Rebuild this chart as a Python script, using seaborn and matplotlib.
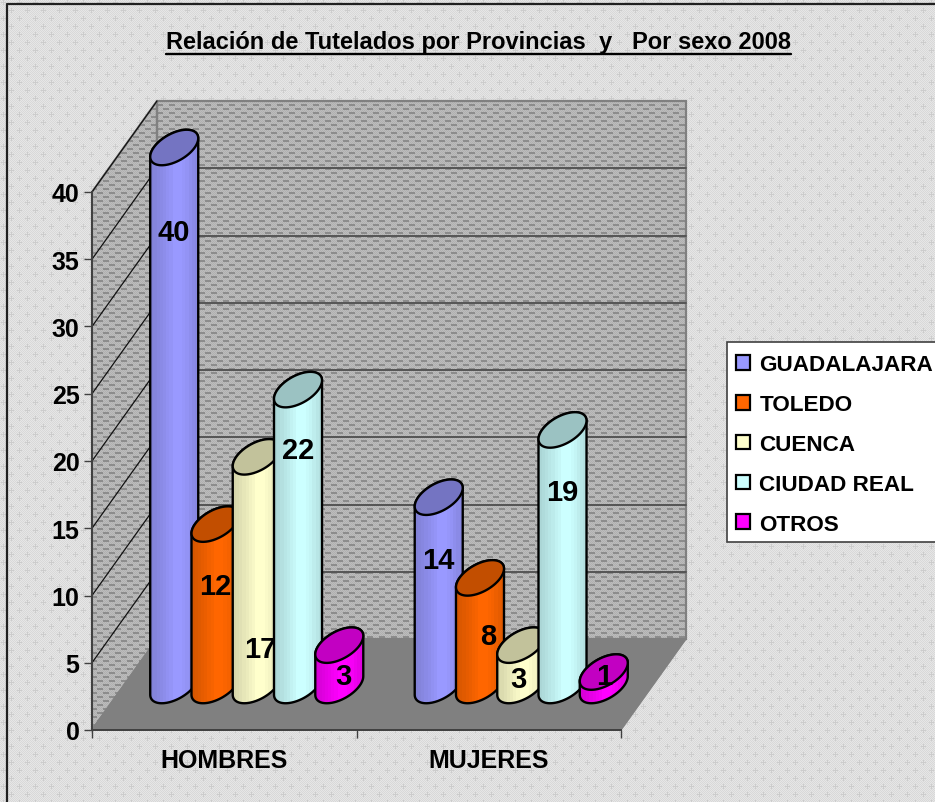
import numpy as np
import pandas as pd
import matplotlib
matplotlib.use("Agg")
import matplotlib.pyplot as plt
from matplotlib.collections import PolyCollection
from matplotlib.patches import Polygon, Rectangle
from matplotlib.path import Path
from matplotlib.transforms import Affine2D, IdentityTransform
import seaborn as sns

# ---------- data ----------
groups = ["HOMBRES", "MUJERES"]
provinces = ["GUADALAJARA", "TOLEDO", "CUENCA", "CIUDAD REAL", "OTROS"]
hombres = [40, 12, 17, 22, 3]
mujeres = [14, 8, 3, 19, 1]
colors = ["#9999FF", "#FF6600", "#FFFFCC", "#CCFFFF", "#FF00FF"]
title = "Relación de Tutelados por Provincias  y   Por sexo 2008"
y_ticks = [0, 5, 10, 15, 20, 25, 30, 35, 40]

df = pd.DataFrame({
    "grupo": groups[0:1] * 5 + groups[1:2] * 5,
    "provincia": provinces * 2,
    "valor": hombres + mujeres,
})

# ---------- layout (pixels, origin at top left of the picture) ----------
W, H = 935, 803
FONT = "Liberation Sans"
sns.set_style("white")
plt.rcParams["font.family"] = [FONT, "DejaVu Sans"]
plt.rcParams["text.color"] = "black"
plt.rcParams["xtick.labelcolor"] = "black"
plt.rcParams["ytick.labelcolor"] = "black"

AX_L, AX_R, AX_T, AX_B = 92, 621, 193, 731
DEPTH = np.array([65.0, 91.0])        # depth of the box, display px
DISC_W, DISC_DX, DISC_DY = 41.0, 25.0, 35.5


def tile_bg():
    yy, xx = np.indices((16, 16))
    t = np.where((xx + yy) % 2 == 0, 0xE6, 0xD8).astype(float)
    for cx, cy in ((3, 3), (11, 11)):
        t[cy, cx - 2:cx + 3] = 0xCC
        t[cy - 2:cy + 3, cx] = 0xCC
    return t


def tile_wall():
    yy, xx = np.indices((8, 12))
    t = np.where((xx + yy) % 2 == 0, 0xBC, 0xB0).astype(float)
    t[1:3, 1:7] = 0x8C
    t[5:7, 7:12] = 0x8C
    t[5:7, 0:1] = 0x8C
    return t


def tiled(t):
    ny = H // t.shape[0] + 1
    nx = W // t.shape[1] + 1
    return np.tile(t, (ny, nx))[:H, :W] / 255.0


fig = plt.figure(figsize=(W / 100, H / 100), dpi=100)
ax = fig.add_axes([AX_L / W, 1 - AX_B / H, (AX_R - AX_L) / W, (AX_B - AX_T) / H])
ax.patch.set_visible(False)

# bars come from seaborn; they are re-styled as cylinders below
sns.barplot(data=df, x="grupo", y="valor", hue="provincia", order=groups,
            hue_order=provinces, palette=dict(zip(provinces, colors)),
            width=0.78, gap=0, dodge=True, saturation=1, ax=ax, legend=True)
leg_handles, leg_labels = ax.get_legend_handles_labels()
ax.get_legend().remove()
ax.set_xlim(-0.5, 1.5)
ax.set_ylim(0, 40)
ax.set_xlabel("")
ax.set_ylabel("")

# axes
ax.set_yticks(y_ticks)
ax.set_yticklabels([str(v) for v in y_ticks], fontsize=18, fontweight="bold", color="black")
ax.tick_params(axis="y", length=6, width=1, color="#404040", pad=3, left=True)
ax.set_xticks([0, 1])
ax.set_xticklabels(groups, fontsize=18, fontweight="bold", color="black")
ax.tick_params(axis="x", which="major", length=0, pad=13)
ax.set_xticks([-0.5, 0.5, 1.5], minor=True)
ax.tick_params(axis="x", which="minor", length=6, width=1, color="#404040", bottom=True)
for s in ("top", "right"):
    ax.spines[s].set_visible(False)
for s in ("left", "bottom"):
    ax.spines[s].set_visible(True)
    ax.spines[s].set_color("#404040")
    ax.spines[s].set_linewidth(1.4)
    ax.spines[s].set_zorder(3)

fig.canvas.draw()
ident = IdentityTransform()


def disp(x, y):
    return ax.transData.transform((x, y))


# corners of the box in display px
p00 = disp(-0.5, 0)
p10 = disp(1.5, 0)
p01 = disp(-0.5, 40)
p11 = disp(1.5, 40)
back = np.array([p00 + DEPTH, p10 + DEPTH, p11 + DEPTH, p01 + DEPTH])
side = np.array([p00, p00 + DEPTH, p01 + DEPTH, p01])
floor = np.array([p00, p10, p10 + DEPTH, p00 + DEPTH])

# patterned figure background and walls
fig.patch.set_facecolor("#DEDEDE")
bg = fig.figimage(tiled(tile_bg()), cmap="gray", vmin=0, vmax=1, zorder=-3)
for poly in (back, side):
    im = fig.figimage(tiled(tile_wall()), cmap="gray", vmin=0, vmax=1, zorder=-2)
    im.set_clip_path(Path(np.vstack([poly, poly[:1]])), transform=ident)

WALL_Z = 0.5
for poly in (back, side):
    ax.add_patch(Polygon(poly, closed=True, transform=ident, fc="none", ec="#808080",
                         lw=1.6, zorder=WALL_Z, clip_on=False))
ax.add_patch(Polygon(floor, closed=True, transform=ident, fc="#808080", ec="#808080",
                     lw=1, zorder=WALL_Z + 0.01, clip_on=False))

# gridlines on the back wall and the side wall
for v in y_ticks[1:-1]:
    a = disp(-0.5, v)
    b = disp(1.5, v)
    ax.plot([a[0] + DEPTH[0], b[0] + DEPTH[0]], [a[1] + DEPTH[1], b[1] + DEPTH[1]],
            color="#555555", lw=1.4, transform=ident, zorder=WALL_Z + 0.1, clip_on=False)
for v in y_ticks[1:]:
    a = disp(-0.5, v)
    ax.plot([a[0], a[0] + DEPTH[0]], [a[1], a[1] + DEPTH[1]], color="#111111", lw=0.9,
            transform=ident, zorder=WALL_Z + 0.1, clip_on=False)

# ---------- cylinders ----------
bar_shift = np.array([32.5, 44.5])
GRAD = np.array([0.84, 0.86, 0.88, 0.90, 0.92, 0.95, 0.97, 1.0, 1.0, 1.0, 0.98, 0.96, 0.93, 0.90, 0.88])
CAP = 0.76
t0 = np.arctan2(DISC_DX, DISC_W)


def disc(cx, cy, t):
    return np.column_stack([cx + DISC_W / 2 * np.cos(t) + DISC_DX / 2 * np.sin(t),
                            cy + DISC_DY / 2 * np.sin(t)])


for si, container in enumerate(ax.containers):
    rgb = np.array(matplotlib.colors.to_rgb(colors[si]))
    for gi, patch in enumerate(container.patches):
        xc = patch.get_x() + patch.get_width() / 2
        val = patch.get_height()
        base = disp(xc, 0) + bar_shift
        top = disp(xc, val) + bar_shift
        z = 2 + gi + si * 0.1
        outline = np.vstack([
            disc(top[0], top[1], np.linspace(t0, t0 + np.pi, 50)),
            disc(base[0], base[1], np.linspace(t0 + np.pi, t0 + 2 * np.pi, 50)),
        ])
        sil = Polygon(outline, closed=True, transform=ident, fc=colors[si], ec="none",
                      zorder=z, clip_on=False)
        ax.add_patch(sil)
        # the seaborn bar itself sits inside the silhouette
        patch.set_transform(ax.transData + Affine2D().translate(*bar_shift))
        patch.set_zorder(z + 0.001)
        patch.set_clip_box(None)
        patch.set_clip_path(sil)
        patch.set_edgecolor("none")
        # vertical shading
        x0, x1 = outline[:, 0].min(), outline[:, 0].max()
        ys = outline[:, 1].min(), outline[:, 1].max()
        edges = np.linspace(x0, x1, len(GRAD) + 1)
        verts = [[(edges[i], ys[0]), (edges[i + 1], ys[0]), (edges[i + 1], ys[1]), (edges[i], ys[1])]
                 for i in range(len(GRAD))]
        pc = PolyCollection(verts, facecolors=[tuple(rgb * g) for g in GRAD], edgecolors="none",
                            antialiaseds=False, transform=ident, zorder=z + 0.002)
        ax.add_collection(pc, autolim=False)
        pc.set_clip_box(None)
        pc.set_clip_path(sil)
        ax.add_patch(Polygon(outline, closed=True, transform=ident, fc="none", ec="black",
                             lw=1.7, zorder=z + 0.003, clip_on=False, joinstyle="round"))
        cap = disc(top[0], top[1], np.linspace(0, 2 * np.pi, 90))
        ax.add_patch(Polygon(cap, closed=True, transform=ident, fc=tuple(rgb * CAP), ec="black",
                             lw=1.7, zorder=z + 0.004, clip_on=False))

# value labels: label offsets (px) from the centre of each cylinder top
label_shift = {
    (0, 0): (0, -85), (0, 1): (0, -62), (0, 2): (4, -192), (0, 3): (0, -60), (0, 4): (4, -31),
    (1, 0): (0, -63), (1, 1): (8, -58), (1, 2): (-3, -34), (1, 3): (0, -62), (1, 4): (0, -4),
}
for si, container in enumerate(ax.containers):
    for gi, patch in enumerate(container.patches):
        xc = patch.get_x() + patch.get_width() / 2
        val = patch.get_height()
        top = disp(xc, val) + bar_shift
        dx, dy = label_shift[(gi, si)]
        ax.text(top[0] + dx, top[1] + dy, f"{val:.0f}", transform=ident, ha="center", va="center",
                fontsize=21, fontweight="bold", color="black", zorder=50, clip_on=False)

# ---------- legend ----------
fig.add_artist(Rectangle((727, H - 543), 215, 200, transform=ident, fc="white", ec="#404040", lw=1.2,
                         zorder=59))
for h in leg_handles:
    h.set_edgecolor("black")
    h.set_linewidth(1.6)
leg = ax.legend(leg_handles, leg_labels, loc="upper left",
                bbox_to_anchor=(727 / W, 1 - 346 / H), bbox_transform=fig.transFigure,
                prop={"family": FONT, "weight": "bold", "size": 16.2}, frameon=False,
                handlelength=0.62, handleheight=0.62, handletextpad=0.4,
                borderpad=0.42, labelspacing=0.835, borderaxespad=0)
leg.set_zorder(60)
ax.set_zorder(1)
fig.artists[-1].set_zorder(0.5)

# ---------- title and frame ----------
ttl = fig.text(478 / W, 1 - 43 / H, title, ha="center", va="center", fontsize=17, fontweight="bold",
               color="black")
fig.canvas.draw()
bb = ttl.get_window_extent()
fig.add_artist(plt.Line2D([bb.x0, bb.x1], [H - 55, H - 55], color="black", lw=1.7, transform=ident))
fig.add_artist(plt.Line2D([7, 7, W], [0, H - 5, H - 5], color="#202020", lw=1.6, transform=ident))

fig.savefig("out.png", dpi=100, facecolor=fig.get_facecolor())
